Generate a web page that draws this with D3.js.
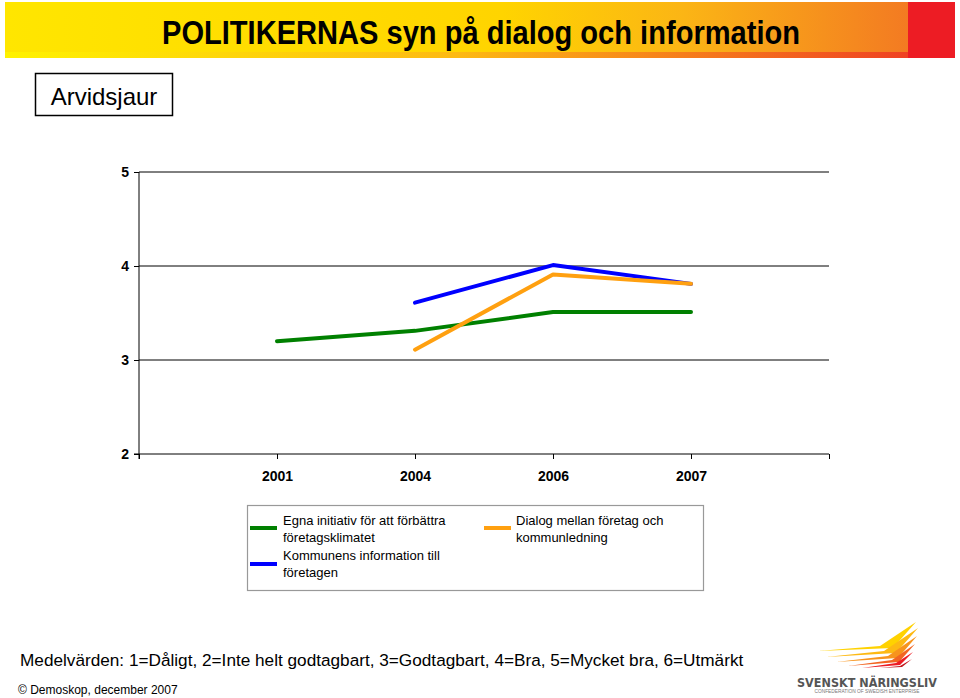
<!DOCTYPE html>
<html><head><meta charset="utf-8">
<script src="https://cdn.jsdelivr.net/npm/d3@7"></script>
<style>body{margin:0;background:#fff}svg{display:block}</style>
</head><body>
<script>
const categories = ["2001","2004","2006","2007"];
const seriesNames = ["Egna initiativ för att förbättra företagsklimatet","Kommunens information till företagen","Dialog mellan företag och kommunledning"];
const egna = [3.20, 3.31, 3.51, 3.51];
const kommunens = [null, 3.61, 4.01, 3.81];
const dialog = [null, 3.11, 3.91, 3.81];
const yTicks = [2,3,4,5];
const colors = ["#008000","#0000FF","#FFA010"];

const W=960,H=698;
const svg=d3.select("body").append("svg").attr("width",W).attr("height",H);
const font="Arial, 'Liberation Sans', sans-serif";

// title bar
const defs=svg.append("defs");
const g1=defs.append("linearGradient").attr("id","tg").attr("x1","0").attr("x2","1");
g1.append("stop").attr("offset","0").attr("stop-color","#FFE600");
g1.append("stop").attr("offset","0.55").attr("stop-color","#FFD400");
g1.append("stop").attr("offset","0.75").attr("stop-color","#FBB515");
g1.append("stop").attr("offset","1").attr("stop-color","#F37A22");
const g2=defs.append("linearGradient").attr("id","tg2").attr("x1","0").attr("x2","1");
g2.append("stop").attr("offset","0").attr("stop-color","#FFF200");
g2.append("stop").attr("offset","0.5").attr("stop-color","#FDB913");
g2.append("stop").attr("offset","1").attr("stop-color","#EF4123");
svg.append("rect").attr("x",5).attr("y",2).attr("width",905).attr("height",56).attr("fill","url(#tg)");
svg.append("rect").attr("x",5).attr("y",52).attr("width",905).attr("height",6).attr("fill","url(#tg2)");
svg.append("rect").attr("x",908).attr("y",2).attr("width",47).attr("height",56).attr("fill","#ED1C24");
svg.append("text").attr("x",481).attr("y",44).attr("text-anchor","middle")
  .attr("font-family","'Liberation Sans Narrow', 'Arial Narrow', Arial, sans-serif").attr("font-weight","bold")
  .attr("font-size",33).attr("textLength",638).attr("lengthAdjust","spacingAndGlyphs")
  .text("POLITIKERNAS syn på dialog och information");

// Arvidsjaur box
svg.append("rect").attr("x",35.5).attr("y",73.5).attr("width",137).attr("height",42).attr("fill","#fff").attr("stroke","#000").attr("stroke-width",1.5);
svg.append("text").attr("x",104).attr("y",105).attr("text-anchor","middle").attr("font-family",font).attr("font-size",24).text("Arvidsjaur");

// chart
const x=d3.scaleLinear().domain([0,categories.length+1]).range([139,829]);
const y=d3.scaleLinear().domain([2,5]).range([454,172]);

const grid=svg.append("g");
grid.selectAll("line").data(yTicks.filter(d=>d>2)).join("line")
  .attr("x1",139).attr("x2",829).attr("y1",d=>y(d)).attr("y2",d=>y(d)).attr("stroke","#000").attr("stroke-width",1);

const yAxis=svg.append("g").attr("transform","translate(139,0)")
  .call(d3.axisLeft(y).tickValues(yTicks).tickFormat(d3.format("d")).tickSize(5).tickPadding(5));
yAxis.select(".domain").attr("d","M0,"+y(5)+"V"+(y(2)+5));
yAxis.selectAll("text").attr("font-family",font).attr("font-weight","bold").attr("font-size",14).attr("fill","#000");

const xAxis=svg.append("g").attr("transform","translate(0,454)")
  .call(d3.axisBottom(x).tickValues(d3.range(0,categories.length+2)).tickFormat(i=>categories[i-1]||"").tickSize(5).tickPadding(12).tickSizeOuter(0));
xAxis.select(".domain").attr("d","M"+(x(0)-5)+",0H"+x(5));
xAxis.selectAll("text").attr("font-family",font).attr("font-weight","bold").attr("font-size",14).attr("fill","#000");

const line=d3.line().defined(d=>d!=null).x((d,i)=>x(i+1)).y(d=>y(d));
[egna,kommunens,dialog].forEach((s,k)=>{
  svg.append("path").datum(s).attr("d",line).attr("fill","none").attr("stroke",colors[k])
    .attr("stroke-width",4).attr("stroke-linecap","round").attr("stroke-linejoin","round");
});

// legend
svg.append("rect").attr("x",247.5).attr("y",505.5).attr("width",456).attr("height",85).attr("fill","#fff").attr("stroke","#999").attr("stroke-width",1.2);
const leg=[
  {c:colors[0],x:250,ly:528,tx:283,lines:["Egna initiativ för att förbättra","företagsklimatet"],ty:525},
  {c:colors[1],x:250,ly:564,tx:283,lines:["Kommunens information till","företagen"],ty:560},
  {c:colors[2],x:484,ly:528,tx:516,lines:["Dialog mellan företag och","kommunledning"],ty:525}
];
leg.forEach(l=>{
  svg.append("line").attr("x1",l.x).attr("x2",l.x+27).attr("y1",l.ly).attr("y2",l.ly).attr("stroke",l.c).attr("stroke-width",4);
  const t=svg.append("text").attr("font-family",font).attr("font-size",13).attr("fill","#000");
  l.lines.forEach((s,i)=>t.append("tspan").attr("x",l.tx).attr("y",l.ty+i*17).text(s));
});

// bottom text
svg.append("text").attr("x",20).attr("y",666).attr("font-family",font).attr("font-size",17.2)
  .text("Medelvärden: 1=Dåligt, 2=Inte helt godtagbart, 3=Godtagbart, 4=Bra, 5=Mycket bra, 6=Utmärkt");
svg.append("text").attr("x",18).attr("y",694).attr("font-family",font).attr("font-size",12).text("© Demoskop, december 2007");

// logo
const logo=svg.append("g");
const feathers=[
  ["#FFD200","M818,651 L880,646 L916,622 L893,648 Z"],
  ["#FDB913","M826,657 L884,651 L918,628 L896,653 Z"],
  ["#F7941D","M836,662 L888,656 L917,636 L898,658 Z"],
  ["#F26522","M848,666 L892,660 L915,644 L899,662 Z"],
  ["#ED1C24","M862,668 L896,663 L913,652 L900,665 Z"],
  ["#C4161C","M880,668 L900,666 L912,659 L902,667 Z"]
];
feathers.forEach(f=>logo.append("path").attr("d",f[1]).attr("fill",f[0]));
logo.append("text").attr("x",867).attr("y",687).attr("text-anchor","middle").attr("font-family","'DejaVu Sans', sans-serif")
  .attr("font-weight","bold").attr("font-size",13).attr("fill","#555").attr("textLength",140).attr("lengthAdjust","spacingAndGlyphs").text("SVENSKT NÄRINGSLIV");
logo.append("text").attr("x",867).attr("y",693).attr("text-anchor","middle").attr("font-family",font)
  .attr("font-size",4.5).attr("fill","#777").attr("textLength",105).attr("lengthAdjust","spacingAndGlyphs").text("CONFEDERATION OF SWEDISH ENTERPRISE");
</script>
</body></html>
